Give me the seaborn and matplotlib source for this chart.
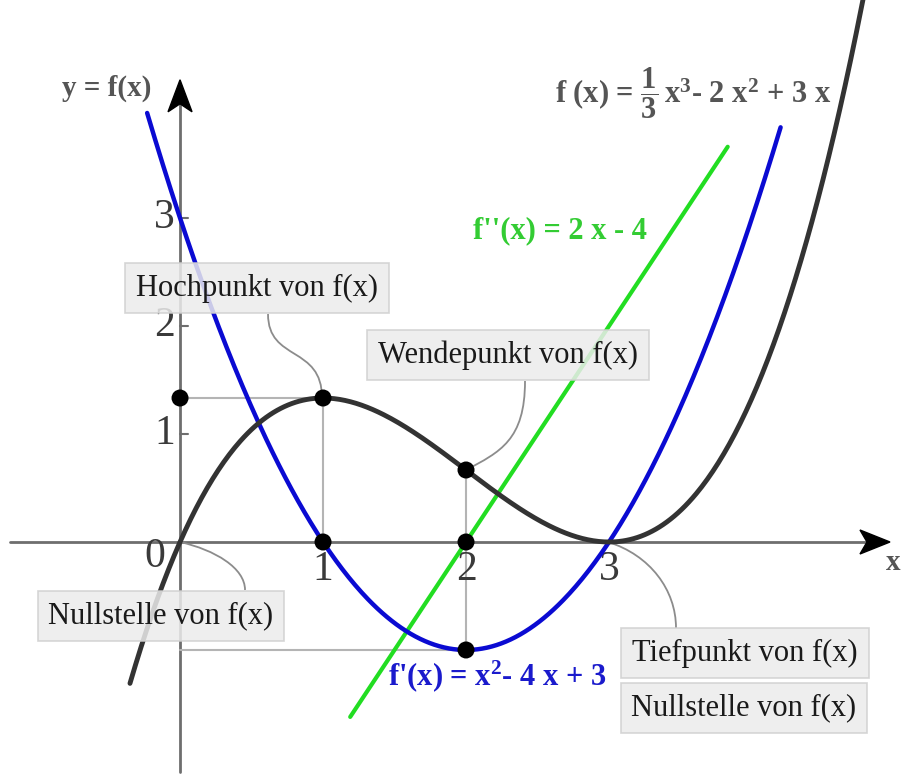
import numpy as np
import pandas as pd
import matplotlib
matplotlib.use("Agg")
import matplotlib.pyplot as plt
from matplotlib.path import Path
from matplotlib.patches import PathPatch, Polygon
import seaborn as sns

# Polynomials (highest power first) and the x-range each graph is drawn over
f_coeffs = [1 / 3, -2, 3, 0]
f1_coeffs = [1, -4, 3]
f2_coeffs = [2, -4]
f_range = [-0.35, 4.78]
f1_range = [-0.23, 4.2]
f2_range = [1.19, 3.83]

# Marked points: maximum, its projection on the y-axis, zero of f', inflection point,
# zero of f'' and minimum of f'
point_x = [0, 1, 1, 2, 2, 2]
point_y = [4 / 3, 4 / 3, 0, 2 / 3, 0, -1]

x_ticks = [1, 2, 3]
y_ticks = [1, 2, 3]

sns.set_theme(style="white")
plt.rcParams["font.family"] = ["Liberation Serif", "DejaVu Serif"]
plt.rcParams["mathtext.fontset"] = "custom"
plt.rcParams["mathtext.rm"] = "Liberation Serif:bold"
plt.rcParams["mathtext.bf"] = "Liberation Serif:bold"
plt.rcParams["mathtext.it"] = "Liberation Serif:bold"

fig = plt.figure(figsize=(9.01, 7.80), dpi=100)
ax = fig.add_axes([0, 0, 1, 1])
ax.set_xlim(-1.259, 5.042)
ax.set_ylim(-2.204, 5.019)
ax.axis("off")

SX, SY = 143.0, 108.0  # pixels per unit


def dx(p):
    return p / SX


def dy(p):
    return p / SY


# Coordinate axes
axis_col = "#6e6e6e"
ax.plot([-1.19, 4.9], [0, 0], color=axis_col, lw=2, zorder=1)
ax.plot([0, 0], [-2.13, 4.2], color=axis_col, lw=2, zorder=1)

# Arrow heads
tip = (4.965, 0)
ax.add_patch(Polygon([tip, (tip[0] - dx(30), dy(12)), (tip[0] - dx(23), 0),
                      (tip[0] - dx(30), -dy(12))], closed=True, color="black", zorder=2))
tip = (0, 4.28)
ax.add_patch(Polygon([tip, (-dx(12), tip[1] - dy(32)), (0, tip[1] - dy(24)),
                      (dx(12), tip[1] - dy(32))], closed=True, color="black", zorder=2))

# Tick marks and labels
tick_col = "#3a3a3a"
for v in y_ticks:
    ax.plot([0, dx(8)], [v, v], color=axis_col, lw=1.5, zorder=1)
    ax.text(-dx(5), v, str(v), ha="right", va="center", fontsize=30, color=tick_col)
for v in x_ticks:
    ax.text(v, -dy(28), str(v), ha="center", va="center", fontsize=30, color=tick_col)
ax.text(-dx(25), -dy(15), "0", ha="center", va="center", fontsize=30, color=tick_col)

# Helper lines to the marked points
guide_col = "#b4b4b4"
ax.plot([0, point_x[1]], [point_y[1], point_y[1]], color=guide_col, lw=1.5, zorder=1)
ax.plot([point_x[1], point_x[1]], [0, point_y[1]], color=guide_col, lw=1.5, zorder=1)
ax.plot([point_x[3], point_x[3]], [point_y[5], point_y[3]], color=guide_col, lw=1.5, zorder=1)
ax.plot([0, point_x[5]], [point_y[5], point_y[5]], color=guide_col, lw=1.5, zorder=1)

# Graphs
def curve(coeffs, rng):
    xs = np.linspace(rng[0], rng[1], 400)
    return pd.DataFrame({"x": xs, "y": np.polyval(coeffs, xs)})


d_f = curve(f_coeffs, f_range)
d_f1 = curve(f1_coeffs, f1_range)
d_f2 = curve(f2_coeffs, f2_range)
sns.lineplot(data=d_f2, x="x", y="y", ax=ax, color="#22dd22", lw=3, zorder=3)
sns.lineplot(data=d_f1, x="x", y="y", ax=ax, color="#0a0ad2", lw=3.2, zorder=4)
sns.lineplot(data=d_f, x="x", y="y", ax=ax, color="#333333", lw=3.5, zorder=5)

sns.scatterplot(x=point_x, y=point_y, ax=ax, color="black", s=150, edgecolor="none", zorder=6)

# Equation labels
ax.text(dx(555 - 180), dy(542 - 93),
        r"f (x) = $\dfrac{1}{3}\,\mathrm{x}^{3}$- 2 $\mathrm{x}^{2}$ + 3 x",
        ha="left", va="center", fontsize=22, fontweight="bold", color="#555555")
ax.text(dx(473 - 180), dy(542 - 231), "f''(x) = 2 x - 4", ha="left", va="center",
        fontsize=22, fontweight="bold", color="#33cc33")
ax.text(dx(388 - 180), dy(542 - 676), r"f'(x) = $\mathrm{x}^{2}$- 4 x + 3", ha="left",
        va="center", fontsize=22, fontweight="bold", color="#1a1acc")
ax.text(dx(62 - 180), dy(542 - 88), "y = f(x)", ha="left", va="center", fontsize=21,
        fontweight="bold", color="#555555")
ax.text(dx(893 - 180), dy(542 - 563), "x", ha="center", va="center", fontsize=21,
        fontweight="bold", color="#555555")

# Callout boxes
box = dict(boxstyle="square,pad=0.35", fc="#ececec", ec="#cfcfcf", lw=1.2, alpha=0.85)
callouts = [
    ("Hochpunkt von f(x)", 257, 288),
    ("Wendepunkt von f(x)", 508, 355),
    ("Nullstelle von f(x)", 161, 616),
    ("Tiefpunkt von f(x)", 745, 653),
    ("Nullstelle von f(x)", 744, 708),
]
for txt, px, py in callouts:
    ax.text(dx(px - 180), dy(542 - py), txt, ha="center", va="center", fontsize=22,
            color="#1a1a1a", bbox=box, zorder=8)

# Connector curves from boxes to points
def connector(p0, p1, p2, p3):
    pts = [(dx(a - 180), dy(542 - b)) for a, b in (p0, p1, p2, p3)]
    path = Path(pts, [Path.MOVETO, Path.CURVE4, Path.CURVE4, Path.CURVE4])
    ax.add_patch(PathPatch(path, fc="none", ec="#8c8c8c", lw=1.3, zorder=2))


connector((268, 314), (268, 362), (322, 345), (322, 398))
connector((525, 381), (525, 440), (500, 452), (466, 470))
connector((245, 590), (245, 568), (215, 550), (180, 542))
connector((676, 628), (676, 590), (650, 555), (608, 542))

fig.savefig("out.png", dpi=100)
